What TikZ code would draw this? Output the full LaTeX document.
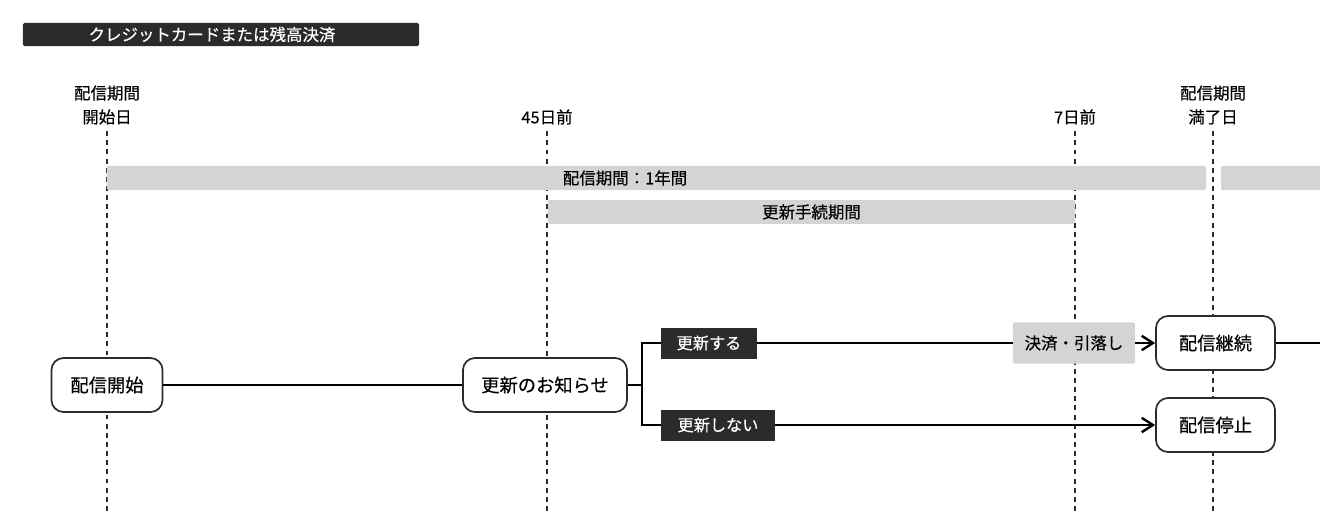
\documentclass[tikz,border=0pt]{standalone}
\usepackage{fontspec}
\setmainfont{Noto Sans CJK JP}[FakeBold=0.35]
\usepackage{xcolor}
\usepackage{tikz}
\usetikzlibrary{arrows.meta,positioning}
\definecolor{inkdark}{HTML}{2B2B2B}
\definecolor{barfill}{HTML}{D4D4D4}

\begin{document}
\begin{tikzpicture}[
    x=0.025cm, y=-0.025cm,
    stepbox/.style={rectangle, rounded corners=0.3cm, draw=inkdark, line width=1.2pt, fill=white, minimum height=1.35cm, inner sep=0pt, font=\fontsize{13}{15}\selectfont},
    tagbox/.style={rectangle, fill=inkdark, text=white, minimum height=0.775cm, inner sep=0pt, font=\fontsize{11.5}{13}\selectfont},
    periodbar/.style={rectangle, rounded corners=1pt, fill=barfill, minimum height=0.6cm, inner sep=0pt, font=\fontsize{11.7}{13}\selectfont},
    daylabel/.style={align=center, inner sep=0pt, font=\fontsize{11.7}{17}\selectfont},
    guide/.style={draw=inkdark, line width=1pt, dash pattern=on 3.5pt off 3pt},
    flow/.style={draw=black, line width=1.7pt},
    arrow/.style={flow, -{Straight Barb[length=2.8mm, width=3.6mm]}}
]
\useasboundingbox (0,0) rectangle (1320,513);

% payment type
\node[rectangle, rounded corners=1pt, fill=inkdark, minimum width=9.9cm, minimum height=0.575cm] (paybar) at (221,34.5) {};
\node[text=white, inner sep=0pt, font=\fontsize{11.7}{13}\selectfont] (paytext) at (212,34.5) {クレジットカードまたは残高決済};

% time marks
\node[daylabel] (start)  at (107,105)  {配信期間\\開始日};
\node[daylabel] (d45)    at (547,117)  {45日前};
\node[daylabel] (d7)     at (1075,117) {7日前};
\node[daylabel] (dayend) at (1213,105) {配信期間\\満了日};
\coordinate (start-b)  at (107,513);
\coordinate (d45-b)    at (547,513);
\coordinate (d7-b)     at (1075,513);
\coordinate (dayend-b) at (1213,513);
\foreach \n in {start,d45,d7,dayend}
    \draw[guide] ([yshift=-0.16cm]\n.south) -- (\n-b);

% periods
\node[periodbar, minimum width=27.475cm] (year) at (656.5,178) {};
\node[inner sep=0pt, font=\fontsize{11.7}{13}\selectfont] (yeartext) at (625,178) {配信期間：1年間};
\node[periodbar, minimum width=2.75cm] (nextyear) at (1276,178) {};
\node[periodbar, minimum width=13.175cm] (renewal) at (811.5,212) {更新手続期間};

% flow
\node[stepbox, minimum width=2.775cm] (begin)    at (107,385)    {配信開始};
\node[stepbox, minimum width=4.1cm]   (notice)   at (545,385)    {更新のお知らせ};
\node[stepbox, minimum width=2.975cm] (continue) at (1215.5,343) {配信継続};
\node[stepbox, minimum width=2.975cm] (stop)     at (1215.5,425) {配信停止};
\node[tagbox, minimum width=2.4cm]  (renew)   at (709,343) {更新する};
\node[tagbox, minimum width=2.85cm] (norenew) at (718,425) {更新しない};
\node[periodbar, minimum width=3.05cm, minimum height=1.025cm] (pay) at (1074,343) {決済・引落し};
\coordinate (edge) at (1330,343);

\draw[flow] (begin) -- (notice);
\draw[flow] (notice.east) -- ++(14,0) coordinate (fork) |- (renew.west);
\draw[flow] (fork) |- (norenew.west);
\draw[flow] (renew) -- (pay);
\draw[arrow] (pay) -- (continue);
\draw[arrow] (norenew) -- (stop);
\draw[flow] (continue) -- (edge);
\end{tikzpicture}
\end{document}
